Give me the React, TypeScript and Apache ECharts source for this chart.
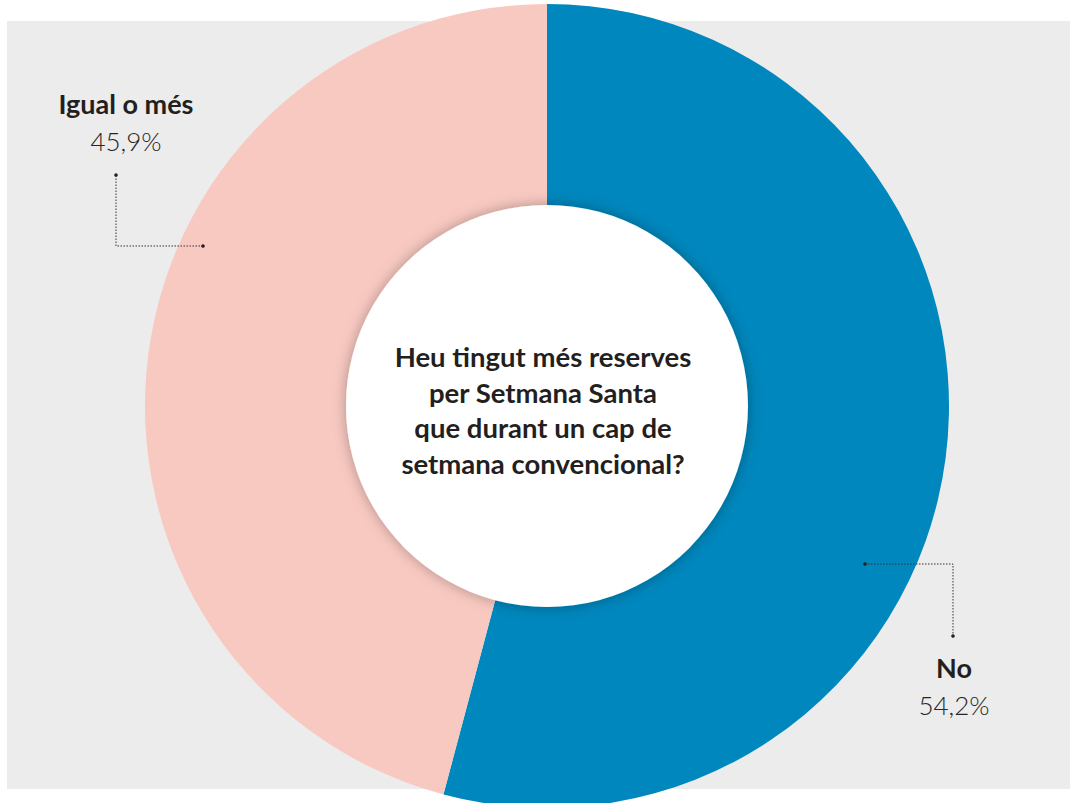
import React, { useEffect, useRef } from "react";
import * as echarts from "echarts";

const categories = ["No", "Igual o més"];
const values = [54.2, 45.9];
const valueLabels = ["54,2%", "45,9%"];
const colors = ["#0087bd", "#f8c9c1"];
const question = [
  "Heu tingut més reserves",
  "per Setmana Santa",
  "que durant un cap de",
  "setmana convencional?",
];

const CENTER: [number, number] = [547, 406];
const labelAnchors: [number, number][] = [
  [954, 686],
  [126, 122],
];
const leaderPoints: [number, number][][] = [
  [
    [865, 564],
    [953, 564],
    [953, 636],
  ],
  [
    [203, 246],
    [116, 246],
    [116, 175],
  ],
];

const FONT = "Lato, 'Noto Sans', sans-serif";

export default function App() {
  const ref = useRef<HTMLDivElement>(null);
  useEffect(() => {
    if (!ref.current) return;
    const chart = echarts.init(ref.current, undefined, { renderer: "svg" });
    const leaders: any[] = [];
    leaderPoints.forEach((pts) => {
      leaders.push({
        type: "polyline",
        z: 100,
        silent: true,
        shape: { points: pts },
        style: { stroke: "#333", lineWidth: 1, lineDash: [1.5, 1.5], fill: null },
      });
      [pts[0], pts[pts.length - 1]].forEach((p) => {
        leaders.push({
          type: "circle",
          z: 101,
          shape: { cx: p[0], cy: p[1], r: 1.8 },
          style: { fill: "#222" },
          silent: true,
        });
      });
    });
    chart.setOption({
      animation: false,
      backgroundColor: "#ffffff",
      graphic: [
        {
          type: "rect",
          z: -10,
          silent: true,
          shape: { x: 7, y: 21, width: 1063, height: 768 },
          style: { fill: "#ececec" },
        },
        ...leaders,
        {
          type: "text",
          z: 100,
          x: 543,
          y: 410,
          silent: true,
          style: {
            text: question.join("\n"),
            fill: "#231f20",
            font: `bold 27.5px ${FONT}`,
            lineHeight: 35.5,
            textAlign: "center",
            textVerticalAlign: "middle",
          },
        },
      ],
      series: [
        {
          type: "pie",
          center: CENTER,
          radius: [190, 402],
          startAngle: 90,
          clockwise: true,
          silent: true,
          data: categories.map((c, i) => ({
            name: c,
            value: values[i],
            itemStyle: { color: colors[i] },
          })),
          label: {
            show: true,
            position: "outside",
            overflow: "none",
            formatter: (p: any) => `{n|${p.name}}\n{v|${valueLabels[p.dataIndex]}}`,
            rich: {
              n: {
                fontFamily: FONT,
                fontSize: 27,
                fontWeight: "bold",
                color: "#231f20",
                lineHeight: 37,
                align: "center",
              },
              v: {
                fontFamily: FONT,
                fontSize: 26,
                fontWeight: 300,
                color: "#262626",
                lineHeight: 37,
                align: "center",
              },
            },
          },
          labelLine: { show: false },
          labelLayout: (params: any) => ({
            x: labelAnchors[params.dataIndex][0],
            y: labelAnchors[params.dataIndex][1],
            align: "center",
            verticalAlign: "middle",
          }),
        },
        {
          type: "pie",
          center: CENTER,
          radius: [0, 201],
          silent: true,
          label: { show: false },
          labelLine: { show: false },
          itemStyle: {
            color: "#ffffff",
            shadowBlur: 14,
            shadowColor: "rgba(0,0,0,0.3)",
          },
          data: [{ name: "centre", value: 1 }],
        },
      ],
    });
    return () => chart.dispose();
  }, []);
  return (
    <div
      ref={ref}
      style={{ position: "fixed", left: 0, top: 0, width: 1070, height: 803 }}
    />
  );
}
